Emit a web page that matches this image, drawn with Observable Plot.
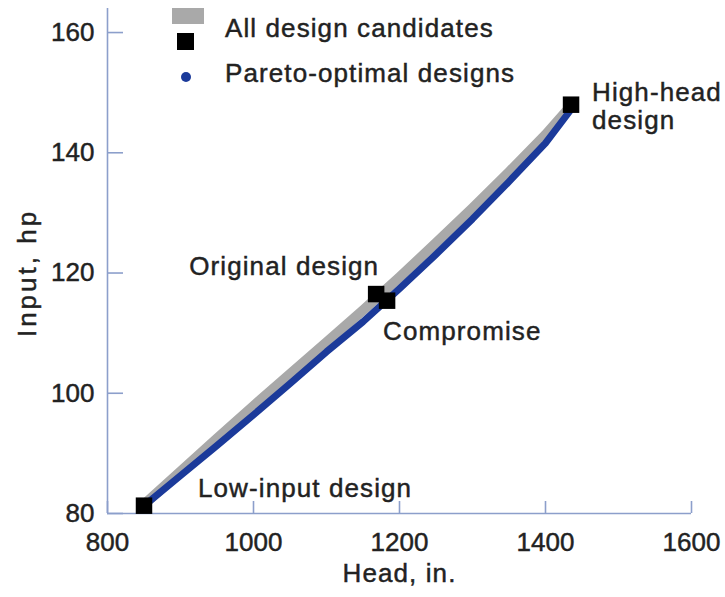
<!DOCTYPE html>
<html>
<head>
<meta charset="utf-8">
<script src="https://cdn.jsdelivr.net/npm/d3@7"></script>
<script src="https://cdn.jsdelivr.net/npm/@observablehq/plot@0.6"></script>
<style>
  body { margin: 0; background: #fff; font-family: "Liberation Sans", Arial, Helvetica, sans-serif; }
  #wrap { position: relative; width: 725px; height: 597px; overflow: hidden; }
  #wrap svg text { stroke: #222; stroke-width: 0.45px; paint-order: stroke; }
  #wrap svg g[aria-label="text"] text { letter-spacing: 1.1px; }
  .lg { position: absolute; }
  .lgtext { position: absolute; font-size: 26px; color: #222; letter-spacing: 1.1px; line-height: 26px; white-space: nowrap; -webkit-text-stroke: 0.45px #222; }
</style>
</head>
<body>
<div id="wrap"></div>
<script>
// ---- data ----
const xTicks = [800, 1000, 1200, 1400, 1600];
const yTicks = [80, 100, 120, 140, 160];

// All design candidates (grey band)
const candHead  = [850, 900, 950, 1000, 1050, 1100, 1150, 1200, 1250, 1300, 1350, 1400, 1435];
const candInput = [81.5, 87.0, 92.5, 97.9, 103.2, 108.5, 113.8, 119.3, 125.0, 130.8, 136.8, 143.0, 147.8];

// Pareto-optimal designs (blue)
const paretoHead  = [850, 900, 950, 1000, 1050, 1100, 1150, 1200, 1250, 1300, 1350, 1400, 1435];
const paretoInput = [81.3, 86.3, 91.3, 96.4, 101.6, 106.9, 111.9, 117.4, 123.1, 129.0, 135.2, 141.6, 147.2];

// Highlighted designs
const designNames = ["Low-input design", "Original design", "Compromise", "High-head\ndesign"];
const designHead  = [850, 1168, 1183, 1435];
const designInput = [81.3, 116.5, 115.4, 148.0];

// ---- build tables ----
const candidates = candHead.map((h, i) => ({head: h, input: candInput[i]}));
const pareto = paretoHead.map((h, i) => ({head: h, input: paretoInput[i]}));
const designs = designNames.map((n, i) => ({name: n, head: designHead[i], input: designInput[i]}));

const axisColor = "#8c9fcb";
const blue = "#1b3a9a";
const grey = "#a9a9a9";

const labelMark = (name, opts) => Plot.text(designs.filter(d => d.name === name), {
  x: "head", y: "input", text: "name", fontSize: 26, fill: "#222", lineHeight: 1.08, ...opts
});

const chart = Plot.plot({
  width: 725,
  height: 597,
  marginLeft: 107,
  marginRight: 34,
  marginTop: 8,
  marginBottom: 84,
  style: { fontFamily: "Liberation Sans, Arial, Helvetica, sans-serif", fontSize: "26px", color: "#222", background: "transparent" },
  x: { domain: [800, 1600] },
  y: { domain: [80, 164] },
  marks: [
    Plot.ruleY([80], { stroke: axisColor, strokeWidth: 1.6 }),
    Plot.ruleX([800], { stroke: axisColor, strokeWidth: 1.6 }),
    Plot.axisX({ ticks: xTicks, tickSize: -12, tickPadding: 31, stroke: axisColor, strokeWidth: 1.6, fill: "#222", label: null, tickFormat: d => String(d), fontSize: 26 }),
    Plot.axisY({ ticks: yTicks, tickSize: -16, tickPadding: 29, stroke: axisColor, strokeWidth: 1.6, fill: "#222", label: null, tickFormat: d => String(d), fontSize: 26 }),
    Plot.line(candidates, { x: "head", y: "input", stroke: grey, strokeWidth: 10, strokeLinecap: "butt" }),
    Plot.line(pareto, { x: "head", y: "input", stroke: blue, strokeWidth: 7, strokeLinecap: "butt" }),
    Plot.dot(designs, { x: "head", y: "input", symbol: "square", r: 9.3, fill: "#000", stroke: "none" }),
    labelMark("Low-input design", { textAnchor: "start", dx: 54, dy: -18 }),
    labelMark("Original design", { textAnchor: "end", dx: 3, dy: -28 }),
    labelMark("Compromise", { textAnchor: "start", dx: -4, dy: 30 }),
    labelMark("High-head\ndesign", { textAnchor: "start", dx: 21, dy: 1 }),
    Plot.text(["Head, in."], { text: d => d, frameAnchor: "bottom", textAnchor: "middle", dy: 68, fontSize: 26, fill: "#222" }),
    Plot.text(["Input, hp"], { text: d => d, frameAnchor: "left", textAnchor: "middle", dx: -80, dy: 12, rotate: -90, fontSize: 26, fill: "#222" })
  ]
});

const wrap = document.getElementById("wrap");
wrap.appendChild(chart);

// wider tracking on the y-axis title, as in the reference
chart.querySelectorAll("text").forEach(t => {
  if (t.textContent === "Input, hp") t.style.letterSpacing = "3px";
});

// ---- legend ----
function add(html) { wrap.insertAdjacentHTML("beforeend", html); }
add(`<div class="lg" style="left:172px;top:8px;width:32px;height:16px;background:${grey}"></div>`);
add(`<div class="lg" style="left:177px;top:33px;width:17px;height:17px;background:#000"></div>`);
add(`<div class="lg" style="left:181px;top:72px;width:10px;height:10px;border-radius:50%;background:${blue}"></div>`);
add(`<div class="lgtext" style="left:225px;top:15px">All design candidates</div>`);
add(`<div class="lgtext" style="left:225px;top:60px">Pareto-optimal designs</div>`);
</script>
</body>
</html>
